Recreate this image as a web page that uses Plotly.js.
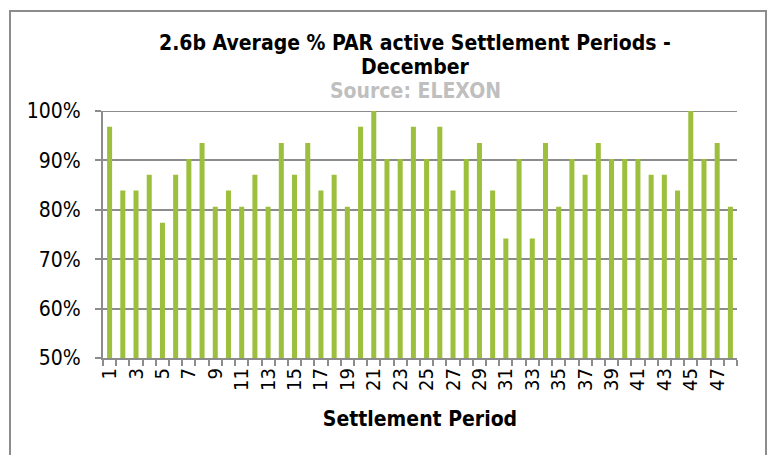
<!DOCTYPE html>
<html>
<head>
<meta charset="utf-8">
<script src="https://cdn.plot.ly/plotly-3.0.1.min.js"></script>
<style>
html,body{margin:0;padding:0;background:#fff;}
#chart{width:770px;height:455px;}
</style>
</head>
<body>
<div id="chart"></div>
<script>
// Data
var periods = [];
for (var i = 1; i <= 48; i++) periods.push(i);
var parActive = [
  0.968, 0.839, 0.839, 0.871, 0.774, 0.871, 0.903, 0.935,
  0.806, 0.839, 0.806, 0.871, 0.806, 0.935, 0.871, 0.935,
  0.839, 0.871, 0.806, 0.968, 1.000, 0.903, 0.903, 0.968,
  0.903, 0.968, 0.839, 0.903, 0.935, 0.839, 0.742, 0.903,
  0.742, 0.935, 0.806, 0.903, 0.871, 0.935, 0.903, 0.903,
  0.903, 0.871, 0.871, 0.839, 1.000, 0.903, 0.935, 0.806
];
var tickVals = [];
var tickText = [];
for (var t = 1; t <= 47; t += 2) { tickVals.push(t); tickText.push(String(t)); }
var yTickVals = [0.5, 0.6, 0.7, 0.8, 0.9, 1.0];

var titleLine1 = "2.6b Average % PAR active Settlement Periods -";
var titleLine2 = "December";
var sourceText = "Source: ELEXON";
var xTitle = "Settlement Period";

var W = 770, H = 455;
var mL = 103, mR = 33, mT = 111, mB = 97;
var pw = W - mL - mR, ph = H - mT - mB;
function px2x(p){ return (p - mL) / pw; }
function py2y(p){ return (H - mB - p) / ph; }

var font = "DejaVu Sans Condensed, DejaVu Sans, sans-serif";
var grid = "#8c8c8c";

var trace = {
  type: "bar",
  x: periods,
  y: parActive,
  marker: {color: "#9dbf3e", line: {width: 0}},
  hoverinfo: "x+y"
};

function titleAnn(text, ypx, color) {
  return {
    text: "<b>" + text + "</b>",
    xref: "paper", yref: "paper",
    x: px2x(415), y: py2y(ypx),
    xanchor: "center", yanchor: "middle",
    showarrow: false,
    font: {family: font, size: 21, color: color}
  };
}

var layout = {
  width: W, height: H,
  margin: {l: mL, r: mR, t: mT, b: mB, pad: 0},
  paper_bgcolor: "#ffffff",
  plot_bgcolor: "#ffffff",
  showlegend: false,
  bargap: 0.62,
  font: {family: font, size: 21, color: "#000"},
  xaxis: {
    type: "linear",
    range: [0.5, 48.5],
    tickmode: "array",
    tickvals: tickVals,
    ticktext: tickText,
    tickangle: -90,
    ticks: "",
    showgrid: false,
    zeroline: false,
    showline: true,
    linecolor: grid,
    linewidth: 2,
    tickfont: {family: font, size: 20, color: "#000"},
    minor: {ticks: "outside", tick0: 0.5, dtick: 1, ticklen: 6, tickwidth: 2, tickcolor: grid, showgrid: false},
    title: {text: "<b>" + xTitle + "</b>", font: {family: font, size: 21, color: "#000"}, standoff: 21},
    fixedrange: true
  },
  yaxis: {
    range: [0.5, 1.0],
    tickmode: "array",
    tickvals: yTickVals,
    tickformat: ".0%",
    ticks: "outside",
    ticklen: 6,
    tickwidth: 2,
    tickcolor: grid,
    ticklabelstandoff: 10,
    showgrid: true,
    gridcolor: grid,
    gridwidth: 2,
    zeroline: false,
    showline: true,
    linecolor: grid,
    linewidth: 2,
    tickfont: {family: font, size: 21, color: "#000"},
    fixedrange: true
  },
  annotations: [
    titleAnn(titleLine1, 43, "#000"),
    titleAnn(titleLine2, 67, "#000"),
    titleAnn(sourceText, 91, "#bfbfbf")
  ],
  shapes: [
    {
      type: "rect", xref: "paper", yref: "paper",
      x0: px2x(10), x1: px2x(766), y0: py2y(470), y1: py2y(11),
      line: {color: "#8c8c8c", width: 2}, fillcolor: "rgba(0,0,0,0)", layer: "below"
    },
    {
      type: "line", xref: "paper", yref: "y",
      x0: 0, x1: 1, y0: yTickVals[yTickVals.length - 1], y1: yTickVals[yTickVals.length - 1],
      line: {color: grid, width: 2}, layer: "below"
    }
  ]
};

Plotly.newPlot("chart", [trace], layout, {displayModeBar: false, staticPlot: true});
</script>
</body>
</html>
